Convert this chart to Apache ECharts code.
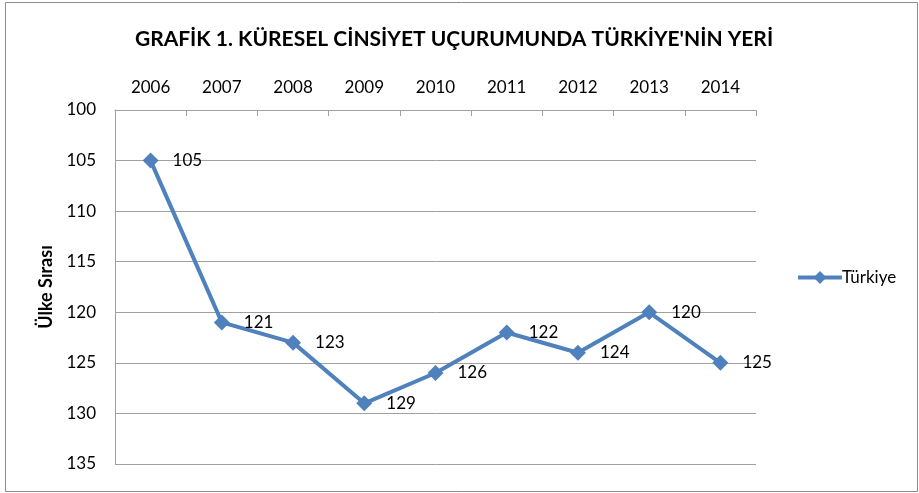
<!DOCTYPE html>
<html>
<head>
<meta charset="utf-8">
<script src="https://cdn.jsdelivr.net/npm/echarts@6/dist/echarts.min.js"></script>
<style>
  html, body { margin: 0; padding: 0; background: #fff; }
  #chart { width: 919px; height: 493px; }
</style>
</head>
<body>
<div id="chart"></div>
<script>
// yıllar ve sıralar
var years = ['2006', '2007', '2008', '2009', '2010', '2011', '2012', '2013', '2014'];
var ranks = [105, 121, 123, 129, 126, 122, 124, 120, 125];
var seriesName = 'Türkiye';

var chart = echarts.init(document.getElementById('chart'));

var option = {
    backgroundColor: '#fff',
    textStyle: { fontFamily: 'Lato' },
    title: {
        text: "GRAFİK 1. KÜRESEL CİNSİYET UÇURUMUNDA TÜRKİYE'NİN YERİ",
        left: 449,
        top: 24,
        textAlign: 'center',
        textStyle: { fontFamily: 'Lato', fontSize: 21, fontWeight: 'bold', color: '#000' }
    },
    graphic: [{
        type: 'rect',
        shape: { x: 5.5, y: 2.5, width: 912, height: 489 },
        style: { fill: 'none', stroke: '#8c8c8c', lineWidth: 1 },
        silent: true
    }],
    legend: {
        left: 791,
        top: 264,
        orient: 'vertical',
        itemWidth: 44,
        itemHeight: 16,
        itemGap: 4,
        data: [seriesName],
        lineStyle: { width: 4 },
        textStyle: { fontFamily: 'Lato', fontSize: 17, color: '#000', padding: [0, 0, 0, -5] }
    },
    grid: { left: 115, top: 110, right: 163, bottom: 29, containLabel: false },
    xAxis: {
        type: 'category',
        position: 'top',
        data: years,
        boundaryGap: true,
        axisLine: { show: true, lineStyle: { color: '#a0a0a0', width: 1 } },
        axisTick: { show: true, inside: true, length: 6, alignWithLabel: false, lineStyle: { color: '#a0a0a0' } },
        axisLabel: { color: '#000', fontSize: 17, fontFamily: 'Lato', margin: 14 },
        splitLine: { show: false }
    },
    yAxis: {
        type: 'value',
        inverse: true,
        min: 100,
        max: 135,
        interval: 5,
        name: 'Ülke Sırası',
        nameLocation: 'middle',
        nameGap: 58,
        nameRotate: 90,
        nameTextStyle: { color: '#000', fontSize: 18, fontWeight: 'bold', fontFamily: 'Lato' },
        axisLine: { show: true, lineStyle: { color: '#a0a0a0', width: 1 } },
        axisTick: { show: false },
        axisLabel: { color: '#000', fontSize: 17, fontFamily: 'Lato', margin: 19 },
        splitLine: { show: true, lineStyle: { color: '#a0a0a0', width: 1 } }
    },
    series: [{
        name: seriesName,
        type: 'line',
        data: ranks,
        symbol: 'diamond',
        symbolSize: 16,
        lineStyle: { color: '#4f81bd', width: 4 },
        itemStyle: { color: '#4f81bd' },
        label: {
            show: true,
            position: 'right',
            distance: 14,
            color: '#000',
            fontSize: 17,
            fontFamily: 'Lato'
        },
        animation: false
    }],
    animation: false
};

chart.setOption(option);
</script>
</body>
</html>
